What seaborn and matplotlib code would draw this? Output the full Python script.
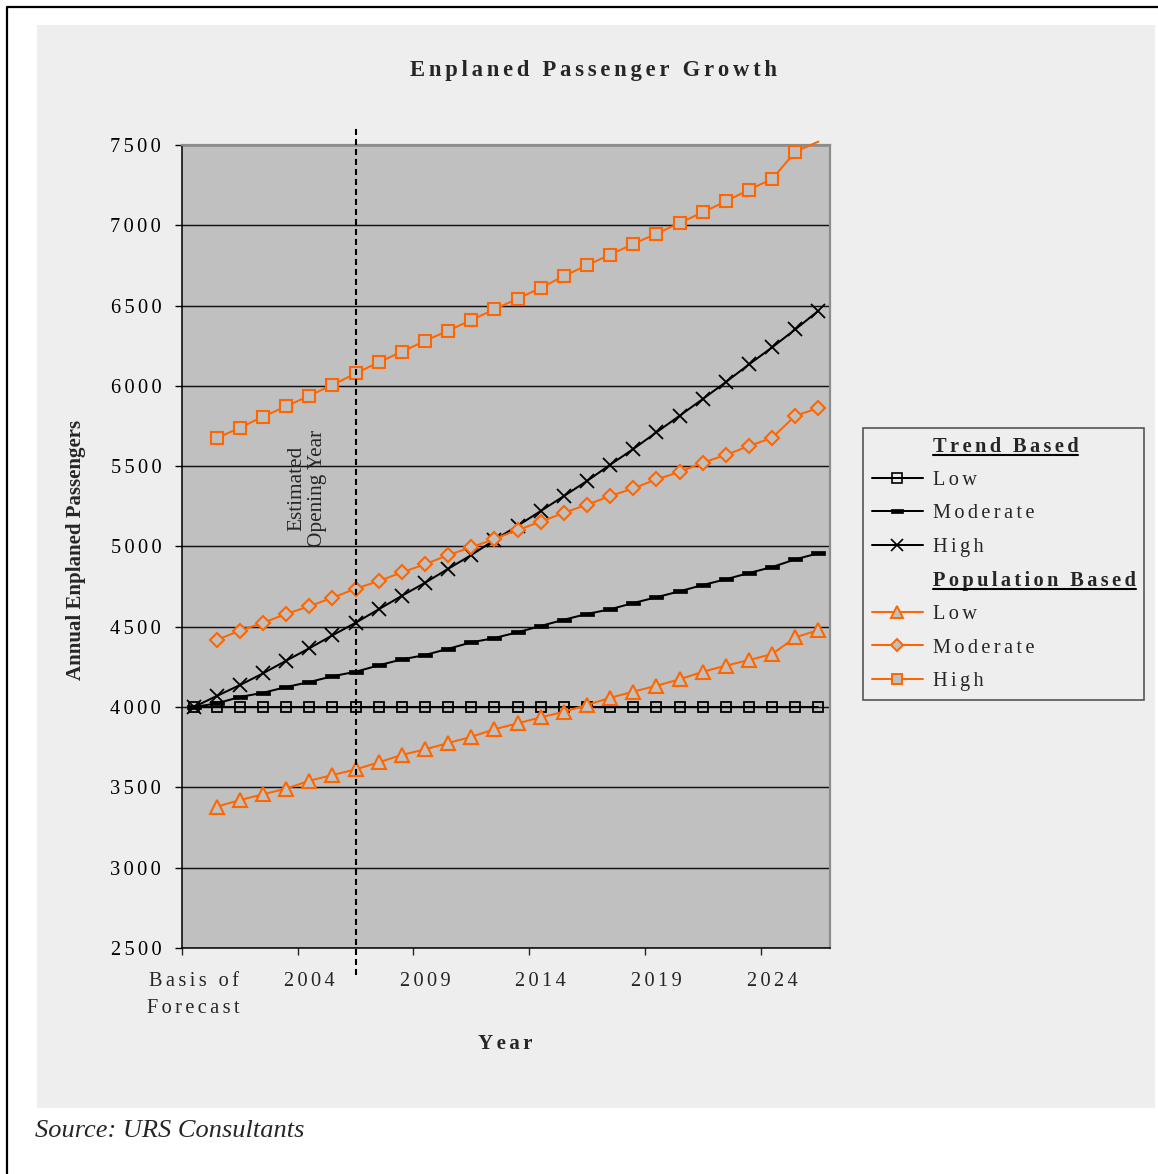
import numpy as np
import matplotlib
matplotlib.use("Agg")
import matplotlib.pyplot as plt
from matplotlib.lines import Line2D
from matplotlib.patches import Rectangle
import seaborn as sns

# ---- data -------------------------------------------------------------
categories = ["Basis of\nForecast"] + [str(y) for y in range(2000, 2027)]
label_every = 5

# Trend based forecasts (basis year + 2000..2026)
trend_low = [4000] * 28
trend_moderate = [4000, 4023, 4063, 4089, 4125, 4156, 4192, 4220, 4260, 4297,
                  4324, 4363, 4403, 4430, 4466, 4505, 4544, 4580, 4609, 4648,
                  4684, 4721, 4760, 4796, 4835, 4872, 4920, 4958]
trend_high = [4000, 4069, 4137, 4210, 4289, 4366, 4447, 4525, 4609, 4693,
              4774, 4861, 4947, 5040, 5129, 5221, 5314, 5408, 5509, 5607,
              5711, 5814, 5918, 6024, 6134, 6240, 6352, 6468]

# Population based forecasts (2000..2026)
pop_low = [3380, 3421, 3457, 3492, 3541, 3577, 3612, 3656, 3702, 3737,
           3776, 3815, 3862, 3899, 3936, 3971, 4013, 4058, 4096, 4133,
           4173, 4220, 4258, 4293, 4330, 4434, 4480]
pop_moderate = [4418, 4476, 4525, 4580, 4628, 4681, 4737, 4785, 4839, 4889,
                4947, 4995, 5047, 5103, 5154, 5210, 5260, 5314, 5362, 5418,
                5464, 5522, 5570, 5626, 5677, 5814, 5862]
pop_high = [5674, 5740, 5808, 5873, 5939, 6006, 6078, 6147, 6213, 6280,
            6344, 6410, 6477, 6543, 6610, 6684, 6751, 6817, 6884, 6948,
            7014, 7081, 7149, 7222, 7288, 7458, 7521]

opening_year = "2006"
y_ticks = [2500, 3000, 3500, 4000, 4500, 5000, 5500, 6000, 6500, 7000, 7500]

# ---- style ------------------------------------------------------------
sns.set_style("ticks")
SERIF = ["Liberation Serif", "DejaVu Serif"]
plt.rcParams["font.family"] = SERIF

ORANGE = "#FF6600"
PLOT_BG = "#C0C0C0"
PANEL_BG = "#EEEEEE"
SP = "\u2006"  # six-per-em space used for letter spacing


def sp(text):
    """Letter-space a string, line by line."""
    return "\n".join(SP.join(line) for line in text.split("\n"))


W, H = 1158, 1174
fig = plt.figure(figsize=(W / 100, H / 100), dpi=100)
fig.patch.set_facecolor("white")

# light panel behind the chart and the page frame
fig.add_artist(Rectangle((37 / W, 1 - 1108 / H), 1118 / W, 1083 / H,
                         transform=fig.transFigure, facecolor=PANEL_BG,
                         edgecolor="none", zorder=-1))
fig.add_artist(Line2D([7 / W, 7 / W, 1.0], [0.0, 1 - 7 / H, 1 - 7 / H],
                      transform=fig.transFigure, color="black", lw=1.6))

ax = fig.add_axes([182 / W, 1 - 948 / H, 648 / W, 803 / H])
ax.set_facecolor(PLOT_BG)

x_trend = np.arange(len(trend_low))
x_pop = np.arange(1, len(pop_low) + 1)

LW = 1.45
rect_marker = [(-1.6, -0.5), (1.6, -0.5), (1.6, 0.5), (-1.6, 0.5), (-1.6, -0.5)]

sns.lineplot(x=x_trend, y=trend_low, ax=ax, color="black", linewidth=LW,
             marker="s", markersize=7.5, markerfacecolor="none",
             markeredgecolor="black", markeredgewidth=1.3, zorder=3)
sns.lineplot(x=x_trend, y=trend_moderate, ax=ax, color="black", linewidth=LW,
             marker=rect_marker, markersize=9.5, markerfacecolor="black",
             markeredgecolor="black", markeredgewidth=0.5, zorder=3)
sns.lineplot(x=x_trend, y=trend_high, ax=ax, color="black", linewidth=LW,
             marker="x", markersize=9.5, markeredgecolor="black",
             markeredgewidth=1.3, zorder=3)

sns.lineplot(x=x_pop, y=pop_low, ax=ax, color=ORANGE, linewidth=LW,
             marker="^", markersize=9.5, markerfacecolor=PLOT_BG,
             markeredgecolor=ORANGE, markeredgewidth=1.5, zorder=4)
sns.lineplot(x=x_pop, y=pop_moderate, ax=ax, color=ORANGE, linewidth=LW,
             marker="D", markersize=7, markerfacecolor=PLOT_BG,
             markeredgecolor=ORANGE, markeredgewidth=1.5, zorder=4)
high_marks = [i for i, v in enumerate(pop_high) if v <= y_ticks[-1]]
sns.lineplot(x=x_pop, y=pop_high, ax=ax, color=ORANGE, linewidth=LW,
             marker="s", markersize=8, markerfacecolor=PLOT_BG,
             markeredgecolor=ORANGE, markeredgewidth=1.5,
             markevery=high_marks, clip_on=False, zorder=4)

# opening-year marker line
x_open = categories.index(opening_year)
ax.axvline(x_open, ymin=-0.034, ymax=1.021, clip_on=False, color="black",
           linestyle=(0, (2.9, 1.9)), linewidth=1.5, zorder=6)
ax.text(x_open - 2.1, 5364, "Estimated\nOpening Year", rotation=90,
        ha="center", va="center", multialignment="center",
        fontsize=15.3, linespacing=1.12, zorder=6)

# ---- axes -------------------------------------------------------------
ax.set_xlim(-0.5, len(categories) - 0.5)
ax.set_ylim(y_ticks[0], y_ticks[-1])
ax.set_yticks(y_ticks)
ax.set_yticklabels([sp(str(v)) for v in y_ticks], fontsize=14.7)
ax.tick_params(axis="y", direction="out", length=5, width=1, pad=10,
               colors="black")
ax.yaxis.grid(True, color="#111111", linewidth=1.05)
ax.set_axisbelow(True)

label_pos = list(range(0, len(categories), label_every))
ax.set_xticks([p - 0.5 for p in label_pos])
ax.set_xticklabels([])
ax.set_xticks(label_pos, minor=True)
ax.set_xticklabels([sp(categories[p]) for p in label_pos], minor=True,
                   fontsize=14.7, linespacing=1.55)
ax.tick_params(axis="x", which="major", direction="out", length=5, width=1)
ax.tick_params(axis="x", which="minor", length=0, pad=17.5)

for side in ("left", "bottom"):
    ax.spines[side].set_color("black")
    ax.spines[side].set_linewidth(1.1)
for side in ("top", "right"):
    ax.spines[side].set_visible(True)
    ax.spines[side].set_color("#8C8C8C")
    ax.spines[side].set_linewidth(1.6)

ax.set_xlabel(sp("Year"), fontsize=15, fontweight="bold")
ax.xaxis.set_label_coords((505 - 182) / 648, (948 - 1034) / 803)
ax.set_ylabel("Annual Enplaned Passengers", fontsize=15, fontweight="bold")
ax.yaxis.set_label_coords((86 - 182) / 648, (948 - 550) / 803)

fig.text(594 / W, 1 - 76 / H, sp("Enplaned Passenger Growth"), ha="center",
         va="baseline", fontsize=16.3, fontweight="bold")
fig.text(35 / W, 1 - 1137 / H, "Source: URS Consultants", ha="left",
         va="baseline", fontsize=19, style="italic")

# ---- legend -----------------------------------------------------------
blank = Line2D([], [], linestyle="none", marker=None)
handles = [
    blank,
    Line2D([], [], color="black", lw=LW, marker="s", ms=7, mfc="none",
           mec="black", mew=1.2),
    Line2D([], [], color="black", lw=LW, marker=rect_marker, ms=9,
           mfc="black", mec="black", mew=0.5),
    Line2D([], [], color="black", lw=LW, marker="x", ms=8, mec="black",
           mew=1.2),
    blank,
    Line2D([], [], color=ORANGE, lw=LW, marker="^", ms=8.5, mfc=PLOT_BG,
           mec=ORANGE, mew=1.4),
    Line2D([], [], color=ORANGE, lw=LW, marker="D", ms=6.5, mfc=PLOT_BG,
           mec=ORANGE, mew=1.4),
    Line2D([], [], color=ORANGE, lw=LW, marker="s", ms=7.5, mfc=PLOT_BG,
           mec=ORANGE, mew=1.4),
]
labels = [sp(t) for t in ["Trend Based", "Low", "Moderate", "High",
                          "Population Based", "Low", "Moderate", "High"]]
leg = fig.legend(handles, labels, loc="upper left",
                 bbox_to_anchor=(863 / W, 1 - 428 / H),
                 bbox_transform=fig.transFigure, frameon=True, fancybox=False,
                 shadow=False, facecolor=PANEL_BG, edgecolor="#555555",
                 framealpha=1, borderaxespad=0, borderpad=0.42,
                 handlelength=2.5, handletextpad=0.5, labelspacing=0.69,
                 numpoints=1, prop={"family": SERIF, "size": 14.7})
leg.get_frame().set_linewidth(1.2)
texts = leg.get_texts()
for i in (0, 4):
    texts[i].set_fontweight("bold")

# underline the two group headers
fig.canvas.draw()
renderer = fig.canvas.get_renderer()
for i in (0, 4):
    bb = texts[i].get_window_extent(renderer)
    yy = (bb.y0 + 1.5) / H
    fig.add_artist(Line2D([bb.x0 / W, bb.x1 / W], [yy, yy],
                          transform=fig.transFigure, color="black", lw=1.5,
                          zorder=20))

fig.savefig("out.png", dpi=100)
